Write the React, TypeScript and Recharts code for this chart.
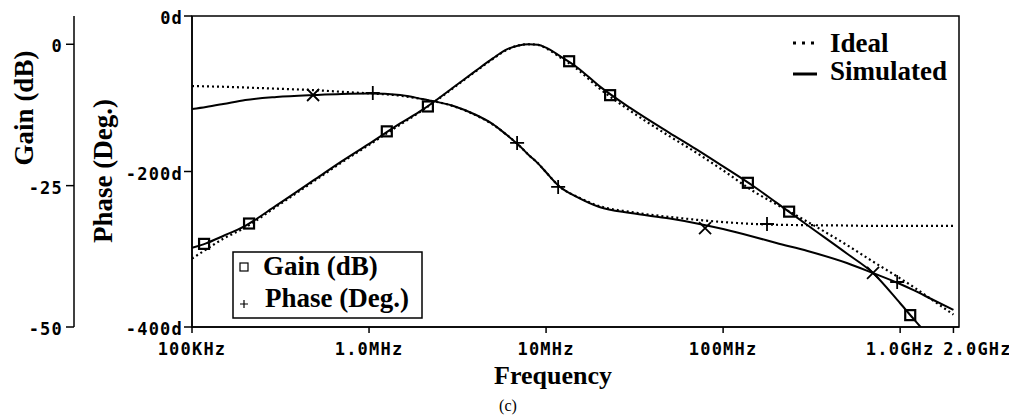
import { ComposedChart, Line, Scatter, XAxis, YAxis, ReferenceArea } from "recharts";

// frequency grid (Hz) shared by the four traces
const freqs = [
  1e5, 1.2e5, 1.5e5, 2e5, 3e5, 5e5, 7e5, 1e6, 1.5e6, 2e6, 3e6, 4e6, 5e6, 6e6, 7e6, 8e6, 9e6,
  1e7, 1.2e7, 1.5e7, 2e7, 3e7, 5e7, 7e7, 1e8, 1.5e8, 2e8, 3e8, 5e8, 7e8, 1e9, 1.2e9, 1.5e9, 2e9,
];

const gainSim = [
  -36.0, -35.2, -33.9, -32.1, -28.5, -23.8, -20.7, -17.6, -14.0, -11.6, -7.6, -4.7, -2.5, -0.9, -0.2, 0, -0.1,
  -0.6, -2.1, -4.1, -7.4, -11.3, -15.7, -18.5, -21.6, -25.2, -28.0, -32.0, -37.0, -40.4, -45.8, -48.7, -52.1, null,
];

const gainIdeal = [
  -37.9, -36.3, -34.4, -32.4, -28.7, -24.0, -20.9, -17.8, -14.2, -11.7, -7.7, -4.8, -2.6, -1.0, -0.2, 0, -0.1,
  -0.7, -2.3, -4.4, -7.8, -11.8, -16.3, -19.1, -22.3, -26.1, -28.3, -31.4, -35.5, -38.4, -41.4, -43.0, -45.1, -47.8,
];

const phaseSim = [
  -119.6, -117, -113.2, -108, -104.2, -101.6, -100.3, -99.7, -101.6, -106.8, -115.8, -127, -139, -153, -166, -179, -189.5,
  -201, -220, -233, -245.7, -253.5, -260.5, -266.5, -274, -284.2, -292, -302.3, -317.7, -330.5, -344.7, -353, -364, -378.1,
];

const phaseIdeal = [
  -90, -90.5, -91, -92, -93.5, -95.5, -97.5, -99.5, -102.5, -107, -116, -127.5, -139.5, -153, -166, -179, -189.5,
  -201, -220, -232.5, -244.5, -252, -258.5, -262, -265, -267.5, -268.5, -269, -269.5, -270, -270, -270, -270, -270,
];

// marker positions [freq, value]
const gainMarksA = [[1.17e5, -35.3], [1.26e6, -15.4], [1.35e7, -3.0], [1.38e8, -24.5]];
const gainMarksB = [[2.1e5, -31.7], [2.15e6, -11.0], [2.3e7, -9.0], [2.36e8, -29.6], [1.14e9, -47.9]];
const phaseMarksX = [[4.83e5, -101.6], [7.91e7, -272.7], [7.03e8, -330.5]];
const phaseMarksPlus = [[1.05e6, -99.0], [6.86e6, -163.3], [1.17e7, -219.9], [1.77e8, -267.5], [9.62e8, -342.1]];

const xTicks = [1e5, 1e6, 1e7, 1e8, 1e9, 2e9];
const xTickLabels = ["100KHz", "1.0MHz", "10MHz", "100MHz", "1.0GHz", "2.0GHz"];
const gainTicks = [0, -25, -50];
const phaseTicks = [0, -200, -400];

const series = (vals: (number | null)[]) => freqs.map((f, i) => ({ f, v: vals[i] }));
const marks = (pts: number[][]) => pts.map(([f, v]) => ({ f, v }));

const tickFont = {
  fontFamily: "'DejaVu Sans Mono', monospace",
  fontWeight: "bold" as const,
  fontSize: 17,
  letterSpacing: 1.2,
  fill: "#000",
};
const serifBold = { fontFamily: "'Liberation Serif', 'Times New Roman', serif", fontWeight: "bold" as const, fill: "#000" };

const XTick = (p: any) => {
  const i = xTicks.indexOf(p.payload.value);
  const dx = p.payload.value === 2e9 ? 24 : 0;
  return (
    <text x={p.x + dx} y={p.y} dy="0.71em" textAnchor="middle" style={tickFont}>
      {xTickLabels[i]}
    </text>
  );
};

const yTick = (fmt: (v: number) => string) => (p: any) => (
  <text x={p.x} y={p.y + 2} dy="0.355em" textAnchor="end" style={tickFont}>
    {fmt(p.payload.value)}
  </text>
);

const SquareMark = (p: any) => (
  <rect x={p.cx - 5} y={p.cy - 5} width={10} height={10} fill="none" stroke="#000" strokeWidth={2.2} />
);
const XMark = (p: any) => (
  <path d={`M${p.cx - 6},${p.cy - 6}L${p.cx + 6},${p.cy + 6}M${p.cx - 6},${p.cy + 6}L${p.cx + 6},${p.cy - 6}`} stroke="#000" strokeWidth={1.8} />
);
const PlusMark = (p: any) => (
  <path d={`M${p.cx - 7},${p.cy}L${p.cx + 7},${p.cy}M${p.cx},${p.cy - 7}L${p.cx},${p.cy + 7}`} stroke="#000" strokeWidth={1.8} />
);

// axis ids: the phase axis sits next to the plot, the gain axis outside it
const PH = "aPhase";
const GN = "bGain";

export default function App() {
  return (
    <div style={{ position: "relative", width: 1009, height: 409, background: "#fff" }}>
      <ComposedChart width={1009} height={409} margin={{ top: 8, right: 58, bottom: 60, left: 0 }}>
        <XAxis
          dataKey="f"
          type="number"
          scale="log"
          domain={[1e5, 2.15e9]}
          ticks={xTicks}
          interval={0}
          allowDataOverflow
          height={30}
          tickSize={6}
          tickMargin={10}
          tick={XTick}
          stroke="#000"
          strokeWidth={1.5}
        />
        <YAxis
          yAxisId={PH}
          dataKey="v"
          type="number"
          domain={[-400, 0]}
          ticks={phaseTicks}
          interval={0}
          allowDataOverflow
          width={118}
          tickSize={8}
          tickMargin={1}
          tick={yTick((v) => `${v}d`)}
          stroke="#000"
          strokeWidth={1.5}
        />
        <YAxis
          yAxisId={GN}
          dataKey="v"
          type="number"
          domain={[-50, 5]}
          ticks={gainTicks}
          interval={0}
          allowDataOverflow
          width={66}
          tickSize={8}
          tickMargin={3}
          tick={yTick((v) => `${v}`)}
          stroke="#000"
          strokeWidth={1.5}
        />
        <ReferenceArea yAxisId={PH} x1={1e5} x2={2.15e9} y1={-400} y2={0} fill="none" stroke="#000" strokeWidth={1.5} />

        <Line yAxisId={GN} data={series(gainIdeal)} dataKey="v" type="monotone" stroke="#000" strokeWidth={2.2} strokeDasharray="2 3" dot={false} isAnimationActive={false} />
        <Line yAxisId={GN} data={series(gainSim)} dataKey="v" type="monotone" stroke="#000" strokeWidth={2} dot={false} isAnimationActive={false} />
        <Line yAxisId={PH} data={series(phaseIdeal)} dataKey="v" type="monotone" stroke="#000" strokeWidth={2.2} strokeDasharray="2 3" dot={false} isAnimationActive={false} />
        <Line yAxisId={PH} data={series(phaseSim)} dataKey="v" type="monotone" stroke="#000" strokeWidth={2} dot={false} isAnimationActive={false} />

        <Scatter yAxisId={GN} data={marks(gainMarksA)} shape={SquareMark} isAnimationActive={false} />
        <Scatter yAxisId={GN} data={marks(gainMarksB)} shape={SquareMark} isAnimationActive={false} />
        <Scatter yAxisId={PH} data={marks(phaseMarksX)} shape={XMark} isAnimationActive={false} />
        <Scatter yAxisId={PH} data={marks(phaseMarksPlus)} shape={PlusMark} isAnimationActive={false} />
      </ComposedChart>

      <svg width={1009} height={409} style={{ position: "absolute", left: 0, top: 0, pointerEvents: "none" }}>
        <text transform="translate(25,100) rotate(-90)" textAnchor="middle" fontSize={27} style={serifBold}>Gain (dB)</text>
        <text transform="translate(104,163) rotate(-90)" textAnchor="middle" fontSize={27} style={serifBold}>Phase (Deg.)</text>

        <rect x={225} y={244} width={189} height={66} fill="#fff" stroke="#000" strokeWidth={1.5} />
        <rect x={232} y={255} width={8} height={8} fill="none" stroke="#000" strokeWidth={1.2} />
        <text x={255} y={267} fontSize={27} style={serifBold}>Gain (dB)</text>
        <path d="M232,296L240,296M236,292L236,300" stroke="#000" strokeWidth={1.2} />
        <text x={257} y={299} fontSize={27} style={serifBold}>Phase (Deg.)</text>

        <path d="M785,35L809,35" stroke="#000" strokeWidth={3} strokeDasharray="3 6" />
        <text x={822} y={44} fontSize={27} style={serifBold}>Ideal</text>
        <path d="M785,66L809,66" stroke="#000" strokeWidth={3} />
        <text x={822} y={72} fontSize={27} style={serifBold}>Simulated</text>

        <text x={545} y={376} textAnchor="middle" fontSize={26} style={serifBold}>Frequency</text>
        <text x={500} y={403} textAnchor="middle" fontSize={16} fontFamily="'Liberation Serif', serif" fill="#000">(c)</text>
      </svg>
    </div>
  );
}
